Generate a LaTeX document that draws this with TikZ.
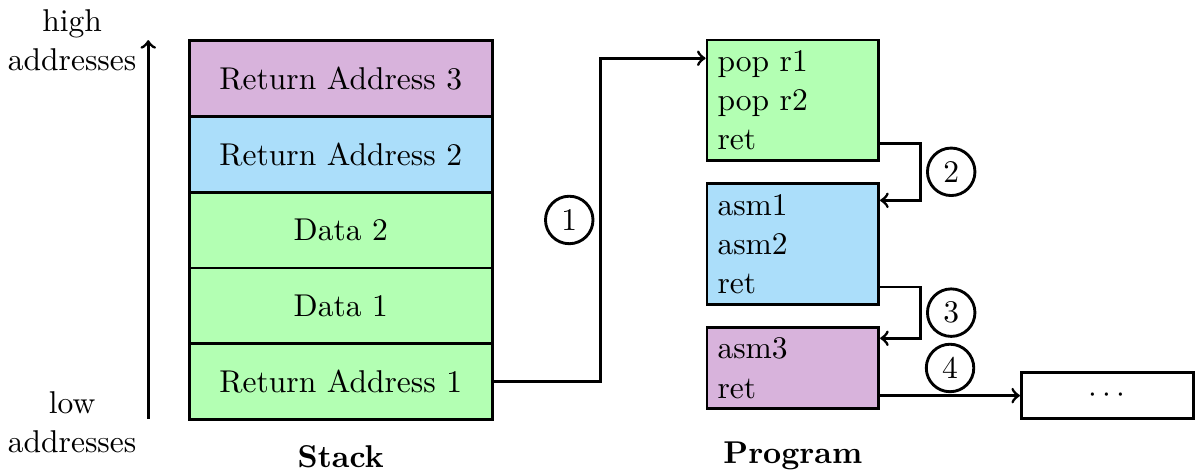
\documentclass[11pt,tikz,border=0pt]{standalone}
\usepackage{tikz}
\usetikzlibrary{arrows,positioning}
\usepackage{xcolor}
\definecolor{slotviolet}{RGB}{216,179,220}
\definecolor{slotblue}{RGB}{171,222,250}
\definecolor{slotgreen}{RGB}{179,255,179}
\tikzset{slot/.style={rectangle,draw=black,line width=0.35mm,minimum width=3.7cm,minimum height=0.925cm}}
\tikzset{codebox/.style={rectangle,draw=black,line width=0.35mm,text width=1.84cm,align=left}}
\tikzset{stepnum/.style={circle,draw=black,line width=0.35mm,minimum size=0.58cm,inner sep=0pt}}

\begin{document}
\begin{tikzpicture}
\useasboundingbox (0,0) rectangle (14.59,5.76);
% \draw[help lines] (0,0) grid (14,5);
% the stack
\node (ra3) [slot,fill=slotviolet] at (4.16,4.80) {Return Address 3};
\node (ra2) [slot,fill=slotblue] at (4.16,3.875) {Return Address 2};
\node (d2) [slot,fill=slotgreen] at (4.16,2.95) {Data 2};
\node (d1) [slot,fill=slotgreen] at (4.16,2.025) {Data 1};
\node (ra1) [slot,fill=slotgreen] at (4.16,1.10) {Return Address 1};
\node (stack) at (4.16,0.19) {\textbf{Stack}};
%
\coordinate (low) at (1.81,0.647);
\coordinate (high) at (1.81,5.27);
\path[->,line width=0.35mm](low) edge (high);
\node (hightxt) [align=center] at (0.88,5.27) {high\\addresses};
\node (lowtxt) [align=center] at (0.88,0.60) {low\\addresses};
%
% the program
\node (prog1) [codebox,fill=slotgreen] at (9.68,4.535) {pop r1\\pop r2\\ret};
\node (prog2) [codebox,fill=slotblue] at (9.68,2.78) {asm1\\asm2\\ret};
\node (prog3) [codebox,fill=slotviolet] at (9.68,1.265) {asm3\\ret};
\node (dots) [rectangle,draw=black,line width=0.35mm,minimum width=2.10cm,minimum height=0.56cm] at (13.52,0.93) {$\cdots$};
\node (prog) at (9.68,0.19) {\textbf{Program}};
%
{\draw[->,line width=0.35mm](ra1.east) -- ++(1.30,0) |- node[stepnum,pos=0.25,left=0.07cm] {1} ([yshift=-0.24cm]prog1.north west);}
{\draw[->,line width=0.35mm]([yshift=0.23cm]prog1.south east) -- ++(0.49,0) |- node[stepnum,pos=0.25,right=0.07cm] {2} ([yshift=-0.22cm]prog2.north east);}
{\draw[->,line width=0.35mm]([yshift=0.23cm]prog2.south east) -- ++(0.49,0) |- node[stepnum,pos=0.25,right=0.07cm] {3} ([yshift=-0.15cm]prog3.north east);}
{\draw[->,line width=0.35mm](prog3.east |- dots.west) -- node[stepnum,above=0.03cm] {4} (dots.west);}
\end{tikzpicture}
\end{document}
